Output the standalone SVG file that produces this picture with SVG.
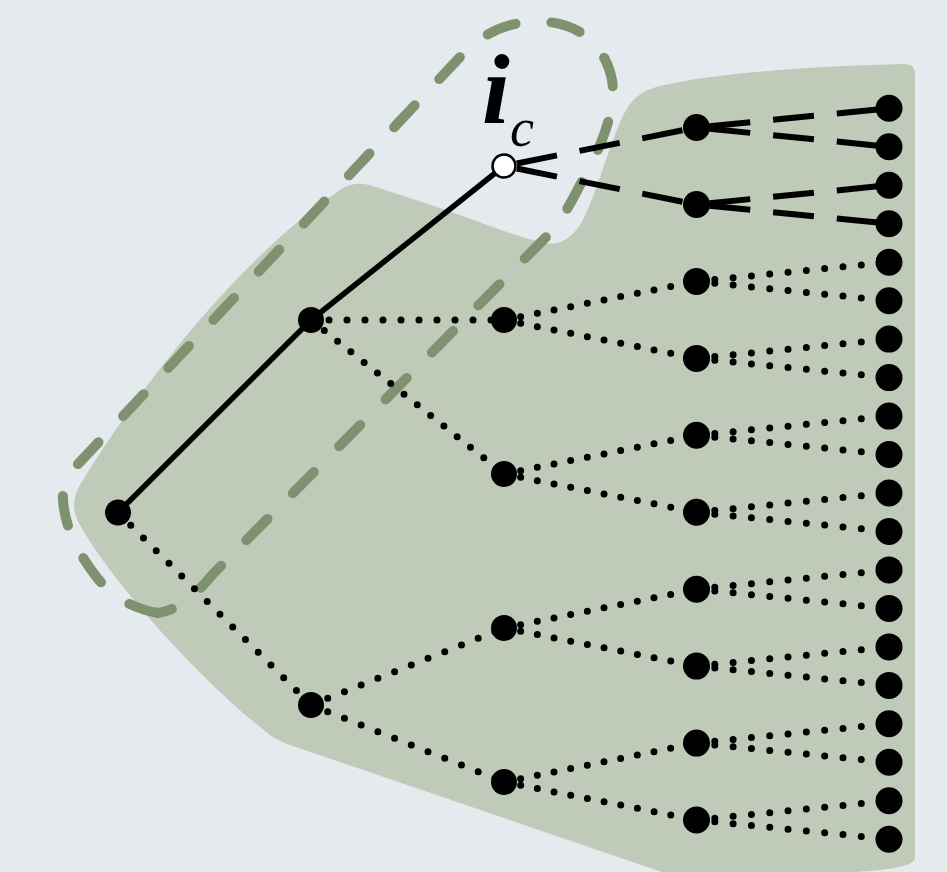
<svg xmlns="http://www.w3.org/2000/svg" width="947" height="872" viewBox="0 0 947 872">
<style>
.bg{fill:#e5eaef}
.region{fill:#bfcab9}
.outline{fill:none;stroke:#7e9270;stroke-width:10;stroke-linecap:round;stroke-dasharray:30 36}
.solid{stroke:#000;stroke-width:5.5;fill:none}
.dash{stroke:#000;stroke-width:6;fill:none;stroke-dasharray:41 23;stroke-dashoffset:-13}
.dot{stroke:#000;stroke-width:7;fill:none;stroke-linecap:round}
.d18{stroke-dasharray:0 18}
.d17{stroke-dasharray:0 17}
.d184{stroke-dasharray:0 18.4}
.node{fill:#000}
.open{fill:#fff;stroke:#000;stroke-width:2.5}
.lbl{font-family:"Liberation Serif","Times New Roman",serif;font-style:italic;fill:#000}
</style>
<rect class="bg" x="0" y="0" width="947" height="872"/>
<path class="region" d="M 340,190 Q 353,180 373,186 L 440,208 C 480,222 520,238 545,243 Q 565,247 580,225 C 595,200 610,140 625,112 Q 635,92 660,86 C 720,72 820,66 905,64 Q 915,64 915,74 L 915,858 Q 915,866 880,870 L 700,885 L 290,745 Q 275,740 265,731 C 200,680 110,580 80,525 Q 68,505 80,485 C 150,370 250,250 340,190 Z"/>
<path class="outline" d="M 158,613 C 130,608 110,595 95,575 C 80,555 65,530 63,500 C 62,485 70,472 80,462 L 460,57 C 490,25 520,20 548,22 C 580,25 605,45 612,80 C 617,110 600,150 580,185 C 570,205 560,222 550,233 L 212,575 C 200,590 180,610 158,613 Z"/>
<g id="connectors">
  <line class="solid" x1="118" y1="512.5" x2="311" y2="320"/>
  <line class="solid" x1="311" y1="320" x2="504" y2="166"/>
  <line class="dot d18" x1="118" y1="512.5" x2="311" y2="705"/>
  <line class="dot d18" x1="311" y1="320" x2="504" y2="320"/>
  <line class="dot d17" x1="311" y1="320" x2="504" y2="474"/>
  <line class="dot d18" x1="311" y1="705" x2="504" y2="628"/>
  <line class="dot d18" x1="311" y1="705" x2="504" y2="782"/>
  <line class="dash" x1="504" y1="166" x2="696.5" y2="127.5"/>
  <line class="dash" x1="504" y1="166" x2="696.5" y2="204.5"/>
  <line class="dot d17" x1="504" y1="320" x2="696.5" y2="281.4"/>
  <line class="dot d17" x1="504" y1="320" x2="696.5" y2="358.4"/>
  <line class="dot d17" x1="504" y1="474" x2="696.5" y2="435.3"/>
  <line class="dot d17" x1="504" y1="474" x2="696.5" y2="512.3"/>
  <line class="dot d17" x1="504" y1="628" x2="696.5" y2="589.2"/>
  <line class="dot d17" x1="504" y1="628" x2="696.5" y2="666.1"/>
  <line class="dot d17" x1="504" y1="782" x2="696.5" y2="743.1"/>
  <line class="dot d17" x1="504" y1="782" x2="696.5" y2="820"/>
  <line class="dash" x1="696.5" y1="127.5" x2="889" y2="108.3"/>
  <line class="dash" x1="696.5" y1="127.5" x2="889" y2="146.8"/>
  <line class="dash" x1="696.5" y1="204.5" x2="889" y2="185.2"/>
  <line class="dash" x1="696.5" y1="204.5" x2="889" y2="223.7"/>
  <line class="dot d184" x1="696.5" y1="281.4" x2="889" y2="262.2"/>
  <line class="dot d184" x1="696.5" y1="281.4" x2="889" y2="300.7"/>
  <line class="dot d184" x1="696.5" y1="358.4" x2="889" y2="339.1"/>
  <line class="dot d184" x1="696.5" y1="358.4" x2="889" y2="377.6"/>
  <line class="dot d184" x1="696.5" y1="435.3" x2="889" y2="416.1"/>
  <line class="dot d184" x1="696.5" y1="435.3" x2="889" y2="454.5"/>
  <line class="dot d184" x1="696.5" y1="512.3" x2="889" y2="493"/>
  <line class="dot d184" x1="696.5" y1="512.3" x2="889" y2="531.5"/>
  <line class="dot d184" x1="696.5" y1="589.2" x2="889" y2="569.9"/>
  <line class="dot d184" x1="696.5" y1="589.2" x2="889" y2="608.4"/>
  <line class="dot d184" x1="696.5" y1="666.1" x2="889" y2="646.9"/>
  <line class="dot d184" x1="696.5" y1="666.1" x2="889" y2="685.4"/>
  <line class="dot d184" x1="696.5" y1="743.1" x2="889" y2="723.8"/>
  <line class="dot d184" x1="696.5" y1="743.1" x2="889" y2="762.3"/>
  <line class="dot d184" x1="696.5" y1="820" x2="889" y2="800.8"/>
  <line class="dot d184" x1="696.5" y1="820" x2="889" y2="839.2"/>
</g>
<g id="n-root"><circle class="node" cx="118" cy="512.5" r="13"/></g>
<g id="n1-a"><circle class="node" cx="311" cy="320" r="13"/></g>
<g id="n1-b"><circle class="node" cx="311" cy="705" r="13"/></g>
<g id="n-ic"><circle class="open" cx="504" cy="166" r="11.5"/><text class="lbl" x="482" y="123" font-size="100" font-weight="bold">i</text><text class="lbl" x="510" y="146" font-size="54">c</text></g>
<g id="n2-b"><circle class="node" cx="504" cy="320" r="13"/></g>
<g id="n2-c"><circle class="node" cx="504" cy="474" r="13"/></g>
<g id="n2-d"><circle class="node" cx="504" cy="628" r="13"/></g>
<g id="n2-e"><circle class="node" cx="504" cy="782" r="13"/></g>
<g id="n3-1"><circle class="node" cx="696.5" cy="127.5" r="13.5"/></g>
<g id="n3-2"><circle class="node" cx="696.5" cy="204.5" r="13.5"/></g>
<g id="n3-3"><circle class="node" cx="696.5" cy="281.4" r="13.5"/></g>
<g id="n3-4"><circle class="node" cx="696.5" cy="358.4" r="13.5"/></g>
<g id="n3-5"><circle class="node" cx="696.5" cy="435.3" r="13.5"/></g>
<g id="n3-6"><circle class="node" cx="696.5" cy="512.3" r="13.5"/></g>
<g id="n3-7"><circle class="node" cx="696.5" cy="589.2" r="13.5"/></g>
<g id="n3-8"><circle class="node" cx="696.5" cy="666.1" r="13.5"/></g>
<g id="n3-9"><circle class="node" cx="696.5" cy="743.1" r="13.5"/></g>
<g id="n3-10"><circle class="node" cx="696.5" cy="820" r="13.5"/></g>
<g id="n4-1"><circle class="node" cx="889" cy="108.3" r="13.5"/></g>
<g id="n4-2"><circle class="node" cx="889" cy="146.8" r="13.5"/></g>
<g id="n4-3"><circle class="node" cx="889" cy="185.2" r="13.5"/></g>
<g id="n4-4"><circle class="node" cx="889" cy="223.7" r="13.5"/></g>
<g id="n4-5"><circle class="node" cx="889" cy="262.2" r="13.5"/></g>
<g id="n4-6"><circle class="node" cx="889" cy="300.7" r="13.5"/></g>
<g id="n4-7"><circle class="node" cx="889" cy="339.1" r="13.5"/></g>
<g id="n4-8"><circle class="node" cx="889" cy="377.6" r="13.5"/></g>
<g id="n4-9"><circle class="node" cx="889" cy="416.1" r="13.5"/></g>
<g id="n4-10"><circle class="node" cx="889" cy="454.5" r="13.5"/></g>
<g id="n4-11"><circle class="node" cx="889" cy="493" r="13.5"/></g>
<g id="n4-12"><circle class="node" cx="889" cy="531.5" r="13.5"/></g>
<g id="n4-13"><circle class="node" cx="889" cy="569.9" r="13.5"/></g>
<g id="n4-14"><circle class="node" cx="889" cy="608.4" r="13.5"/></g>
<g id="n4-15"><circle class="node" cx="889" cy="646.9" r="13.5"/></g>
<g id="n4-16"><circle class="node" cx="889" cy="685.4" r="13.5"/></g>
<g id="n4-17"><circle class="node" cx="889" cy="723.8" r="13.5"/></g>
<g id="n4-18"><circle class="node" cx="889" cy="762.3" r="13.5"/></g>
<g id="n4-19"><circle class="node" cx="889" cy="800.8" r="13.5"/></g>
<g id="n4-20"><circle class="node" cx="889" cy="839.2" r="13.5"/></g>
</svg>
